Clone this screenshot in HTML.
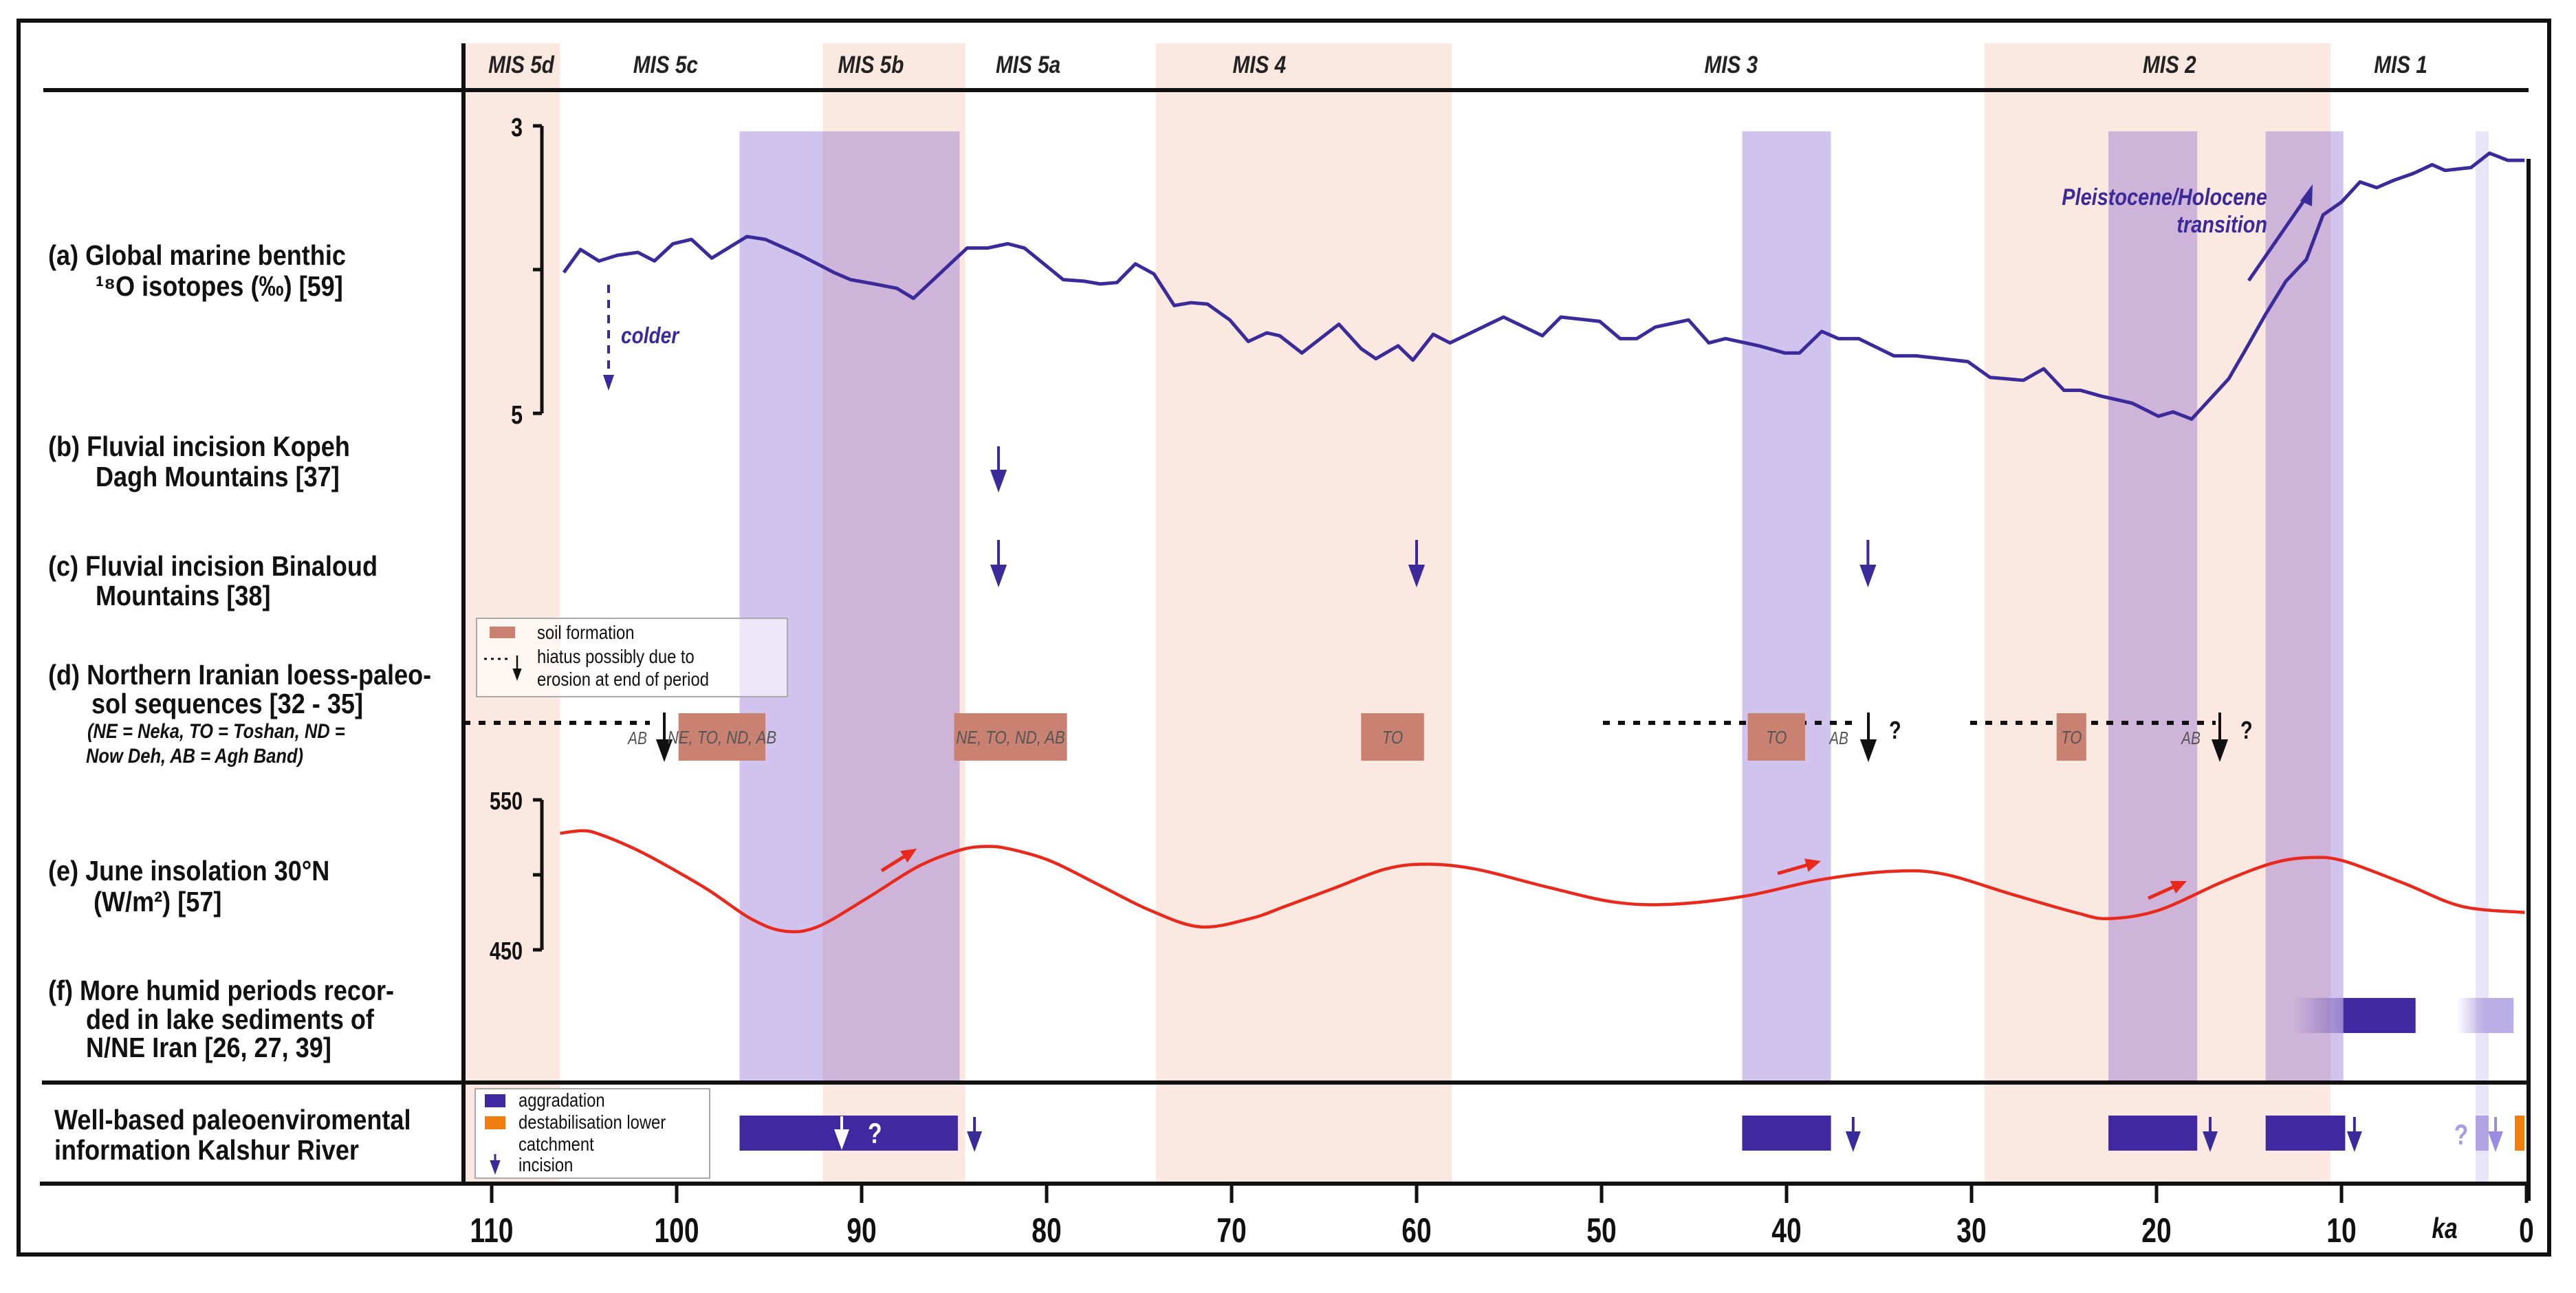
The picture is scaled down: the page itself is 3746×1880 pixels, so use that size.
<!DOCTYPE html>
<html><head><meta charset="utf-8"><style>
html,body{margin:0;padding:0;background:#fff}
svg{display:block}
text{font-family:"Liberation Sans",sans-serif}
</style></head><body>
<svg id="chart" xmlns="http://www.w3.org/2000/svg" width="3746" height="1880" viewBox="0 0 3746 1880">
<defs>
<linearGradient id="gf1" x1="0" x2="1"><stop offset="0" stop-color="#3f28a0" stop-opacity="0"/><stop offset="1" stop-color="#3f28a0" stop-opacity="1"/></linearGradient>
<linearGradient id="gf2" x1="0" x2="1"><stop offset="0" stop-color="#b9aee6" stop-opacity="0"/><stop offset="0.5" stop-color="#b9aee6" stop-opacity="1"/><stop offset="1" stop-color="#b9aee6" stop-opacity="1"/></linearGradient>
</defs>
<g id="bands"></g>
<g id="frame"></g>
<g id="marks"></g>
<g id="labels"></g>
</svg>
<script>
// ---- data ----
const misNames = ["MIS 5d","MIS 5c","MIS 5b","MIS 5a","MIS 4","MIS 3","MIS 2","MIS 1"];
const misLabelAge = [108.4,100.6,89.5,81.0,68.5,43.0,19.3,6.8];
const pinkStart = [111.6,92.1,74.1,29.3];
const pinkEnd = [106.3,84.4,58.1,10.6];
const purpleStart = [96.6,42.4,22.6,14.1];
const purpleEnd = [84.7,37.6,17.8,9.9];
const tickAges = [110,100,90,80,70,60,50,40,30,20,10,0];
const d18oAge = [106.1,105.2,104.2,103.2,102.1,101.2,100.2,99.2,98.1,96.2,95.2,93.3,91.5,90.6,89.3,88.1,87.2,84.3,83.2,82.1,81.2,79.1,78.0,77.1,76.2,75.2,74.2,73.1,72.2,71.3,70.1,69.1,68.1,67.4,66.2,64.2,63.0,62.2,61.0,60.2,59.1,58.2,55.3,53.2,52.2,50.1,49.0,48.1,47.1,45.3,44.2,43.3,41.5,40.1,39.3,38.1,37.2,36.1,34.2,33.0,30.2,29.0,27.2,26.1,25.0,24.1,23.0,21.3,19.9,19.1,18.1,16.1,15.2,14.1,13.0,11.9,11.0,10.0,9.0,8.1,7.2,6.1,5.1,4.4,3.0,2.0,1.0,0.1];
const d18oVal = [4.02,3.86,3.94,3.90,3.88,3.94,3.82,3.79,3.92,3.77,3.79,3.90,4.02,4.07,4.10,4.13,4.20,3.85,3.85,3.82,3.85,4.07,4.08,4.10,4.09,3.96,4.03,4.25,4.23,4.24,4.35,4.50,4.44,4.46,4.58,4.38,4.55,4.62,4.53,4.63,4.45,4.51,4.33,4.46,4.33,4.36,4.48,4.48,4.40,4.35,4.51,4.48,4.53,4.58,4.58,4.43,4.48,4.48,4.60,4.60,4.64,4.75,4.77,4.69,4.84,4.84,4.88,4.93,5.02,4.99,5.04,4.76,4.56,4.31,4.08,3.93,3.62,3.53,3.39,3.43,3.38,3.33,3.27,3.31,3.29,3.19,3.24,3.24];
const insAge = [106.3,105.1,104.2,102.3,100.6,98.3,96.0,94.2,92.4,89.7,87.0,84.8,83.4,82.1,79.8,77.1,74.4,71.7,69.0,67.1,64.4,61.7,59.5,56.8,52.8,49.3,46.2,42.2,38.1,34.2,31.5,27.9,24.4,22.6,19.9,16.4,13.7,11.7,9.9,6.6,3.5,0.1];
const insVal = [527.7,529.4,527.2,517.5,506.5,490.0,470.8,462.5,465.3,484.5,505.2,516.1,518.9,517.5,509.3,492.8,476.3,465.3,470.8,479.0,491.4,503.8,507.1,503.8,491.4,481.8,480.4,485.9,496.9,502.4,500.5,487.3,474.9,470.8,476.3,495.5,507.9,511.5,509.3,494.2,479.0,474.9];
const incisionB = [82.6];
const incisionC = [82.6,60.0,35.6];
const soilStart = [99.9,85.0,63.0,42.1,25.4];
const soilEnd = [95.2,78.9,59.6,39.0,23.8];
const soilText = ["NE, TO, ND, AB","NE, TO, ND, AB","TO","TO","TO"];
const aggStart = [96.6,42.4,22.6,14.1];
const aggEnd = [84.8,37.6,17.8,9.8];
const kalshurIncision = [83.9,36.4,17.1,9.3];
const humidStart = [12.6,3.8];
const humidEnd = [6.0,0.7];

// ---- scales ----
const X = t => 3674 - t*26.9;
const Yd = v => 183 + (v-3)*209;
const Yi = v => 1381 - (v-450)*2.18;
const NS = "http://www.w3.org/2000/svg";
function mk(parent, tag, attrs){ const e=document.createElementNS(NS,tag); for(const k in attrs) e.setAttribute(k,attrs[k]); document.getElementById(parent).appendChild(e); return e; }
function txt(parent, x, y, s, size, opts){
  opts = opts||{};
  const e = mk(parent,"text",{x:0,y:0,"font-size":size,"font-weight":opts.w||"bold","font-style":opts.i?"italic":"normal",fill:opts.c||"#111","text-anchor":opts.a||"start",transform:`translate(${x},${y}) scale(${opts.sx||0.8},1)`});
  e.textContent = s; return e;
}
function arrow(parent, x, y1, y2, color, w, head){
  const l = mk(parent,"line",{x1:x,y1:y1,x2:x,y2:y2-head*1.2,stroke:color,"stroke-width":w});
  const p = mk(parent,"polygon",{points:`${x-head*0.55},${y2-head*1.5} ${x+head*0.55},${y2-head*1.5} ${x},${y2}`,fill:color});
  return [l,p];
}
function smoothPath(pts){
  let d = `M${pts[0][0]},${pts[0][1]}`;
  for(let i=0;i<pts.length-1;i++){
    const p0=pts[Math.max(0,i-1)], p1=pts[i], p2=pts[i+1], p3=pts[Math.min(pts.length-1,i+2)];
    const c1=[p1[0]+(p2[0]-p0[0])/6, p1[1]+(p2[1]-p0[1])/6];
    const c2=[p2[0]-(p3[0]-p1[0])/6, p2[1]-(p3[1]-p1[1])/6];
    d += ` C${c1[0]},${c1[1]} ${c2[0]},${c2[1]} ${p2[0]},${p2[1]}`;
  }
  return d;
}

// ---- bands ----
for(let i=0;i<pinkStart.length;i++){
  const r = mk("bands","rect",{x:X(pinkStart[i]),y:63,width:X(pinkEnd[i])-X(pinkStart[i]),height:1721-63,fill:"#fbe8e0"});
  
  
}
for(let i=0;i<purpleStart.length;i++){
  const r = mk("bands","rect",{x:X(purpleStart[i]),y:191,width:X(purpleEnd[i])-X(purpleStart[i]),height:1574-191,fill:"rgba(100,60,200,0.3)"});
  
  
}
const thin = mk("bands","rect",{x:X(2.75),y:191,width:X(2.05)-X(2.75),height:1721-191,fill:"#e9e5f8"});



// ---- frame ----
const fr = mk("frame","rect",{x:27,y:30,width:3680,height:1794,fill:"none",stroke:"#111","stroke-width":6});


[[63,131,3677,131],[61,1574,3677,1574],[58,1721,3677,1721],[674,63,674,1721],[3677,231,3677,1746]].forEach(c=>{
  const l = mk("frame","line",{x1:c[0],y1:c[1],x2:c[2],y2:c[3],stroke:"#111","stroke-width":6});
  
  
});
tickAges.forEach(t=>{
  const l = mk("frame","line",{x1:X(t),y1:1721,x2:X(t),y2:1749,stroke:"#111","stroke-width":5});
  
  
  const lb = txt("labels",X(t),1806,String(t),50,{a:"middle",sx:0.78});
  
  
});
const ka = txt("labels",3555,1800,"ka",42,{i:true,a:"middle"});


misNames.forEach((n,i)=>{
  const lb = txt("labels",X(misLabelAge[i]),106,n,35,{i:true,a:"middle",w:"bold",c:"#222",sx:0.85});
  
  
});

// ---- d18O axis ----
[[788,183,788,601],[775,183,788,183],[775,601,788,601],[775,392,788,392]].forEach(c=>{
  const l=mk("marks","line",{x1:c[0],y1:c[1],x2:c[2],y2:c[3],stroke:"#111","stroke-width":5});
  
  
});
let lb = txt("labels",760,198,"3",38,{a:"end"});  
lb = txt("labels",760,616,"5",38,{a:"end"});  
const dpl = mk("marks","polyline",{points:d18oAge.map((a,i)=>X(a)+","+Yd(d18oVal[i])).join(" "),fill:"none",stroke:"#3b2a9a","stroke-width":5,"stroke-linejoin":"round"});


const cl = mk("marks","line",{x1:885,y1:414,x2:885,y2:548,stroke:"#3b2a9a","stroke-width":4,"stroke-dasharray":"12,10"});


const cp = mk("marks","polygon",{points:"877,545 893,545 885,568",fill:"#3b2a9a"});


lb = txt("labels",903,499,"colder",33,{i:true,c:"#3b2a9a",sx:0.85});  
const tl = mk("marks","line",{x1:3270,y1:408,x2:3355,y2:285,stroke:"#3b2a9a","stroke-width":5});


const tp = mk("marks","polygon",{points:"3363,268 3345,292 3362,300",fill:"#3b2a9a"});


lb = txt("labels",3297,298,"Pleistocene/Holocene",34,{i:true,a:"end",c:"#3b2a9a",sx:0.85});  
lb = txt("labels",3297,338,"transition",34,{i:true,a:"end",c:"#3b2a9a",sx:0.85});  

// ---- incision arrows ----
incisionB.forEach(a=>{ const g=arrow("marks",X(a),649,716,"#3b2a9a",4,22); g.forEach(e=>{}); });
incisionC.forEach(a=>{ const g=arrow("marks",X(a),785,854,"#3b2a9a",4,22); g.forEach(e=>{}); });

// ---- loess (d) ----
[[674,945],[2331,2702],[2865,3222]].forEach(s=>{
  const l=mk("marks","line",{x1:s[0],y1:1051,x2:s[1],y2:1051,stroke:"#111","stroke-width":6,"stroke-dasharray":"10,12"});
  
  
});
soilStart.forEach((s,i)=>{
  const r=mk("marks","rect",{x:X(s),y:1037,width:X(soilEnd[i])-X(s),height:69,fill:"#c98272"});
  
  
  const t=txt("labels",(X(s)+X(soilEnd[i]))/2,1081,soilText[i],26,{i:true,a:"middle",w:"normal",c:"#555",sx:0.85});
  
  
});
[[966,927,""],[2717,2674,"?"],[3228,3186,"?"]].forEach(h=>{
  const g=arrow("marks",h[0],1036,1108,"#111",4,22); g.forEach(e=>{});
  const a=txt("labels",h[1],1082,"AB",26,{i:true,a:"middle",w:"normal",c:"#555"});  
  if(h[2]){const q=txt("labels",h[0]+30,1074,"?",36,{c:"#111"});  }
});
const lg = mk("marks","rect",{x:693,y:899,width:452,height:114,fill:"rgba(255,255,255,0.6)",stroke:"#aaa","stroke-width":2});


const sw = mk("marks","rect",{x:712,y:911,width:37,height:17,fill:"#c98272"});


lb=txt("labels",781,929,"soil formation",28,{w:"normal",sx:0.85});  
const ld=mk("marks","line",{x1:704,y1:958,x2:740,y2:958,stroke:"#111","stroke-width":3,"stroke-dasharray":"4,6"});
 
arrow("marks",752,953,990,"#111",2.5,12).forEach(e=>{});
lb=txt("labels",781,964,"hiatus possibly due to",28,{w:"normal",sx:0.85});  
lb=txt("labels",781,997,"erosion at end of period",28,{w:"normal",sx:0.85});  

// ---- insolation ----
[[788,1163,788,1381],[775,1163,788,1163],[775,1381,788,1381],[775,1272,788,1272]].forEach(c=>{
  const l=mk("marks","line",{x1:c[0],y1:c[1],x2:c[2],y2:c[3],stroke:"#111","stroke-width":5});
   
});
lb=txt("labels",760,1177,"550",36,{a:"end"});  
lb=txt("labels",760,1395,"450",36,{a:"end"});  
const ipl = mk("marks","path",{d:smoothPath(insAge.map((a,i)=>[X(a),Yi(insVal[i])])),fill:"none",stroke:"#e8291c","stroke-width":4.5,"stroke-linejoin":"round"});


[[1282,1266,1333,1234],[2585,1270,2648,1252],[3124,1306,3180,1281]].forEach(a=>{
  const l=mk("marks","line",{x1:a[0],y1:a[1],x2:a[0]+(a[2]-a[0])*0.7,y2:a[1]+(a[3]-a[1])*0.7,stroke:"#e8291c","stroke-width":5});
   
  const dx=a[2]-a[0], dy=a[3]-a[1], L=Math.hypot(dx,dy), ux=dx/L, uy=dy/L;
  const bx=a[2]-ux*22, by=a[3]-uy*22;
  const p=mk("marks","polygon",{points:`${a[2]},${a[3]} ${bx-uy*10},${by+ux*10} ${bx+uy*10},${by-ux*10}`,fill:"#e8291c"});
   
});

// ---- humid (f) ----
humidStart.forEach((s,i)=>{
  const r=mk("marks","rect",{x:X(s),y:1451,width:X(humidEnd[i])-X(s),height:51,fill:i===0?"url(#gf1)":"url(#gf2)"});
   
});
const hs = mk("marks","rect",{x:X(9.9),y:1451,width:X(humidEnd[0])-X(9.9),height:51,fill:"#3f28a0"});
 

// ---- Kalshur ----
aggStart.forEach((s,i)=>{
  const r=mk("marks","rect",{x:X(s),y:1622,width:X(aggEnd[i])-X(s),height:51,fill:"#3f28a0"});
   
});
kalshurIncision.forEach(a=>{ arrow("marks",X(a),1624,1675,"#3b2a9a",4,20).forEach(e=>{}); });
arrow("marks",1224,1623,1672,"#fff",4,20).forEach(e=>{});
lb=txt("labels",1262,1662,"?",42,{c:"#fff"});  
const lbx=mk("marks","rect",{x:X(2.75),y:1622,width:X(2.05)-X(2.75),height:51,fill:"#b0a4e4"});
 
arrow("marks",3629,1624,1675,"#9a8ce0",4,20).forEach(e=>{});
lb=txt("labels",3579,1664,"?",42,{c:"#a89ce4",a:"middle"});  
const orr=mk("marks","rect",{x:3657,y:1622,width:14,height:51,fill:"#f07f10"});
 
const lg2=mk("marks","rect",{x:691,y:1583,width:341,height:130,fill:"#fff",stroke:"#aaa","stroke-width":2});
 
const s1=mk("marks","rect",{x:705,y:1591,width:30,height:19,fill:"#3f28a0"});  
const s2=mk("marks","rect",{x:705,y:1623,width:30,height:19,fill:"#f07f10"});  
arrow("marks",720,1678,1708,"#3b2a9a",3,14).forEach(e=>{});
[["aggradation",1609],["destabilisation lower",1641],["catchment",1673],["incision",1703]].forEach(t=>{
  const e=txt("labels",754,t[1],t[0],28,{w:"normal",sx:0.85});  
});

// ---- row labels ----
const rows = [
  [70,385,"(a) Global marine benthic",false],
  [139,430,"¹⁸O isotopes (‰) [59]",false],
  [70,663,"(b) Fluvial incision Kopeh",false],
  [139,707,"Dagh Mountains [37]",false],
  [70,837,"(c) Fluvial incision Binaloud",false],
  [139,880,"Mountains [38]",false],
  [70,995,"(d) Northern Iranian loess-paleo-",false],
  [133,1037,"sol sequences [32 - 35]",false],
  [127,1073,"(NE = Neka, TO = Toshan, ND =",true],
  [125,1109,"Now Deh, AB = Agh Band)",true],
  [70,1280,"(e) June insolation 30°N",false],
  [136,1325,"(W/m²) [57]",false],
  [70,1454,"(f) More humid periods recor-",false],
  [125,1496,"ded in lake sediments of",false],
  [125,1537,"N/NE Iran [26, 27, 39]",false],
  [79,1642,"Well-based paleoenviromental",false],
  [79,1686,"information Kalshur River",false]
];
rows.forEach(r=>{
  const e = txt("labels",r[0],r[1],r[2],r[3]?30:41,{i:r[3],c:"#111",sx:r[3]?0.85:0.88});
  
  
});
</script>
</body></html>
